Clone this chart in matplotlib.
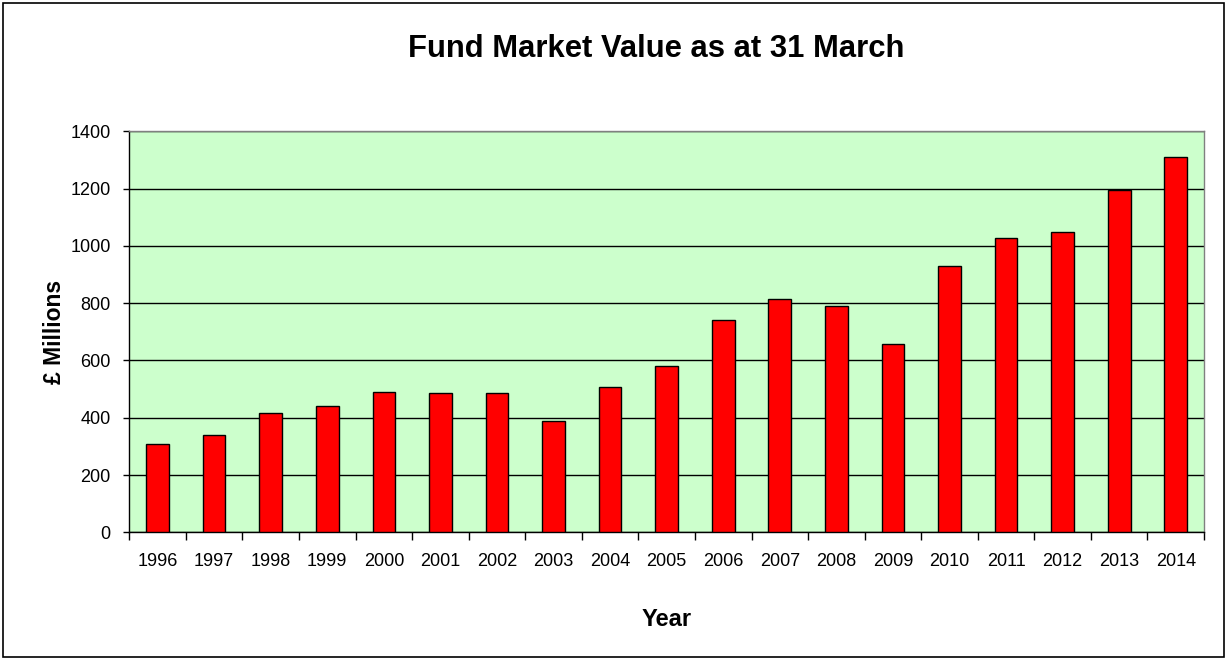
import numpy as np
import matplotlib.pyplot as plt
from matplotlib.patches import Rectangle

years = ['1996', '1997', '1998', '1999', '2000', '2001', '2002', '2003', '2004', '2005',
         '2006', '2007', '2008', '2009', '2010', '2011', '2012', '2013', '2014']
values = [307, 341, 418, 441, 490, 485, 485, 390, 507, 580,
          741, 815, 791, 657, 931, 1026, 1047, 1194, 1310]
y_ticks = [0, 200, 400, 600, 800, 1000, 1200, 1400]

plt.rcParams['font.family'] = ['Liberation Sans', 'DejaVu Sans']

fig = plt.figure(figsize=(12.28, 6.6), dpi=100)
ax = fig.add_axes([0.1053, 0.1935, 0.8752, 0.6075])

x = np.arange(len(years))
ax.bar(x, values, width=0.4, color='#FF0000', edgecolor='black', linewidth=1, zorder=3)

ax.set_facecolor('#CCFFCC')
ax.set_xlim(-0.5, len(years) - 0.5)
ax.set_ylim(0, 1400)
ax.set_yticks(y_ticks)
ax.yaxis.grid(True, color='black', linewidth=1)
ax.set_axisbelow(True)

# ticks between categories, labels under bars
ax.set_xticks(np.arange(-0.5, len(years), 1.0))
ax.set_xticklabels([])
ax.set_xticks(x, minor=True)
ax.set_xticklabels(years, minor=True, fontsize=13)
ax.tick_params(axis='x', which='major', direction='out', length=5.5, width=1, color='black')
ax.tick_params(axis='x', which='minor', length=0, pad=15)
ax.tick_params(axis='y', direction='out', length=4.5, width=1, labelsize=13, pad=9)

for side in ['top', 'right']:
    ax.spines[side].set_color('#808080')
    ax.spines[side].set_linewidth(1)
for side in ['left', 'bottom']:
    ax.spines[side].set_color('black')
    ax.spines[side].set_linewidth(1)

ax.set_xlabel('Year', fontsize=17, fontweight='bold', labelpad=27)
ax.set_ylabel('£ Millions', fontsize=16.5, fontweight='bold', labelpad=3)

fig.text(0.534, 0.926, 'Fund Market Value as at 31 March', ha='center', va='center',
         fontsize=22.3, fontweight='bold')

# outer chart border
fig.patches.append(Rectangle((0.0025, 0.004), 0.9945, 0.9915, transform=fig.transFigure,
                             fill=False, edgecolor='black', linewidth=1.2))

plt.savefig('out.png', dpi=100)
